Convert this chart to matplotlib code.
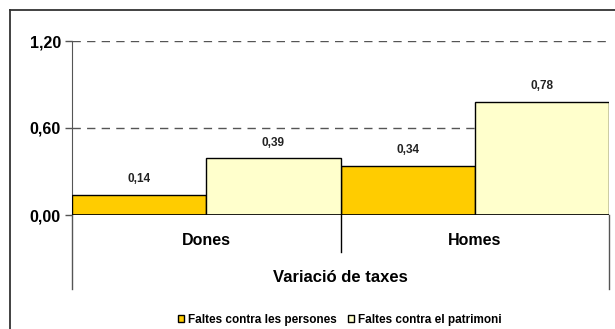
import matplotlib.pyplot as plt
import numpy as np
from matplotlib.lines import Line2D
from matplotlib.patches import Patch

plt.rcParams['font.family'] = ['Liberation Sans', 'DejaVu Sans']
plt.rcParams['font.weight'] = 'bold'

groups = ['Dones', 'Homes']
series = ['Faltes contra les persones', 'Faltes contra el patrimoni']
persones = [0.14, 0.34]
patrimoni = [0.39, 0.78]
colors = ['#FFCC00', '#FFFFCC']
y_ticks = [0.0, 0.6, 1.2]
y_tick_labels = ['0,00', '0,60', '1,20']
axis_title = 'Variació de taxes'


def fmt(v):
    return f'{v:.2f}'.replace('.', ',')


fig = plt.figure(figsize=(6.15, 3.29), dpi=100)
ax = fig.add_axes([72 / 615, 1 - 215 / 329, (609 - 72) / 615, (215 - 41) / 329])

x = np.arange(len(groups))
w = 0.5
for vals, off, col in [(persones, -w / 2, colors[0]), (patrimoni, w / 2, colors[1])]:
    bars = ax.bar(x + off, vals, width=w, color=col, edgecolor='black', linewidth=1.0, zorder=3)
    for b, v in zip(bars, vals):
        ax.text(b.get_x() + b.get_width() / 2, v + 0.065, fmt(v), ha='center', va='bottom',
                fontsize=8.5, fontweight='bold', color='#222222')

ax.set_xlim(-0.5, len(groups) - 0.5)
ax.set_ylim(0, 1.2)
ax.set_yticks(y_ticks)
ax.set_yticklabels(y_tick_labels, fontsize=11.5, fontweight='bold')
ax.tick_params(axis='y', length=5, width=1, color='#555555', pad=3)
ax.set_xticks([])
ax.yaxis.grid(True, linestyle=(0, (6, 4.5)), color='#555555', linewidth=1)
ax.set_axisbelow(True)
for s in ['top', 'right', 'bottom']:
    ax.spines[s].set_visible(False)
ax.spines['left'].set_color('#555555')
ax.axhline(0, color='black', linewidth=1.2, zorder=4)

# two-level category axis under the bars
trans = ax.transAxes
ax.plot([0, 0], [0, -0.425], transform=trans, color='#555555', lw=1, clip_on=False)
ax.plot([1, 1], [0, -0.425], transform=trans, color='#555555', lw=1, clip_on=False)
ax.plot([0.5, 0.5], [0, -0.213], transform=trans, color='black', lw=1, clip_on=False)
for i, g in enumerate(groups):
    ax.text((i + 0.5) / len(groups), -0.145, g, transform=trans, ha='center', va='center',
            fontsize=11.5, fontweight='bold')
ax.text(0.5, -0.36, axis_title, transform=trans, ha='center', va='center',
        fontsize=12, fontweight='bold')

# chart frame, top and left edges
fig.add_artist(Line2D([10 / 615, 1], [1 - 10 / 329, 1 - 10 / 329], color='#333333', lw=1.3))
fig.add_artist(Line2D([10 / 615, 10 / 615], [0, 1 - 10 / 329], color='#333333', lw=1.3))

handles = [Patch(facecolor=c, edgecolor='black', linewidth=1) for c in colors]
fig.legend(handles, series, loc='center', bbox_to_anchor=(340 / 615, 1 - 320 / 329), ncol=2,
           frameon=False, handlelength=0.55, handleheight=0.55, handletextpad=0.35,
           columnspacing=0.9, prop={'weight': 'bold', 'size': 8.5})

fig.savefig('out.png', dpi=100)
